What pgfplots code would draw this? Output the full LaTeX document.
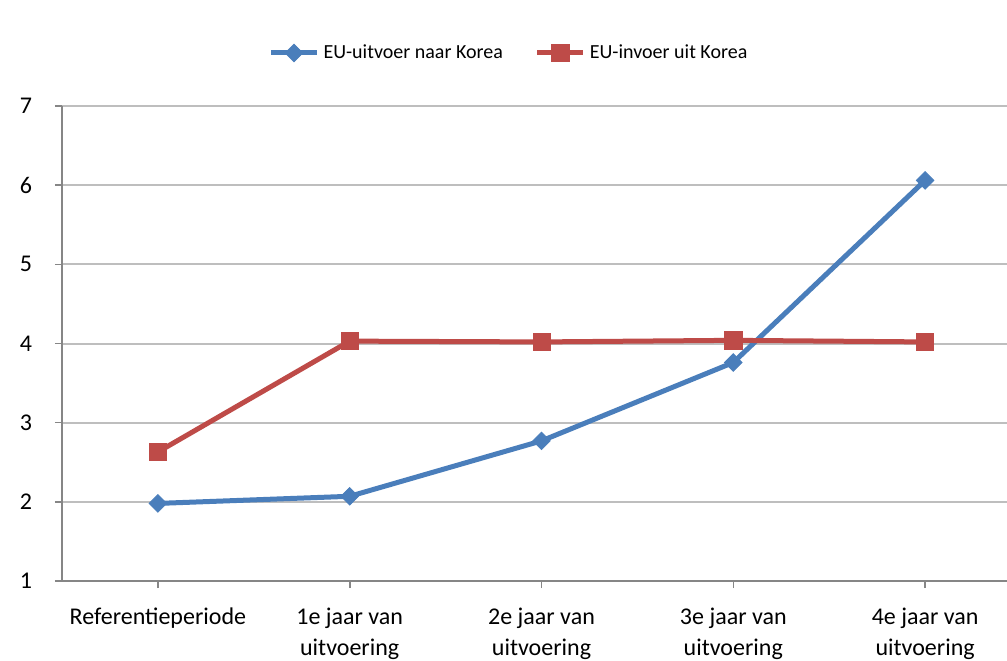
\documentclass[border=0pt]{standalone}
\usepackage{fontspec}
\setmainfont{Carlito}
\usepackage{pgfplots}
\pgfplotsset{compat=1.18}
\definecolor{exblue}{HTML}{4A7EBB}
\definecolor{exred}{HTML}{BE4B48}
\definecolor{gridgray}{HTML}{BEBEBE}
\definecolor{axgray}{HTML}{868686}
\begin{document}
\begin{tikzpicture}
\useasboundingbox (-31pt,-39.5pt) rectangle (472.5pt,290.5pt);
\clip (-31pt,-39.5pt) rectangle (472.5pt,290.5pt);
\begin{axis}[
  scale only axis, width=472.5pt, height=237.5pt,
  at={(0pt,0pt)}, anchor=south west,
  xmin=-0.5, xmax=4.427, ymin=1, ymax=7,
  axis lines*=left,
  axis line style={axgray, line width=1pt},
  ytick={1,2,3,4,5,6,7},
  ymajorgrids, grid style={gridgray, line width=1pt},
  xtick={0,1,2,3,4},
  xticklabels={Referentieperiode, {1e jaar van\\uitvoering}, {2e jaar van\\uitvoering}, {3e jaar van\\uitvoering}, {4e jaar van\\uitvoering}},
  tick align=outside, major tick length=3.5pt,
  tick style={axgray, line width=0.8pt},
  /pgf/number format/assume math mode=true,
  ticklabel style={font=\fontsize{12pt}{15.5pt}\selectfont},
  xticklabel style={align=center, yshift=-6.5pt},
  yticklabel style={xshift=-8pt},
  legend columns=2,
  legend style={at={(rel axis cs:0.474,1.1116)}, anchor=center, draw=none, fill=none,
    font=\fontsize{10pt}{12pt}\selectfont,
    /tikz/every even column/.append style={column sep=14pt}},
  legend image code/.code={\draw[mark repeat=2,mark phase=2,#1] plot coordinates {(0pt,0pt) (11.5pt,0pt) (23pt,0pt)};},
]
\addplot[exblue, line width=2.5pt, mark=square*, mark size=3.1pt, mark options={rotate=45, line width=0.4pt, fill=exblue}]
  coordinates {(0,1.98) (1,2.07) (2,2.77) (3,3.76) (4,6.06)};
\addlegendentry{EU-uitvoer naar Korea}
\addplot[exred, line width=2.5pt, mark=square*, mark size=4.3pt, mark options={line width=0.4pt, fill=exred}]
  coordinates {(0,2.63) (1,4.03) (2,4.02) (3,4.04) (4,4.02)};
\addlegendentry{EU-invoer uit Korea}
\end{axis}
\end{tikzpicture}
\end{document}
